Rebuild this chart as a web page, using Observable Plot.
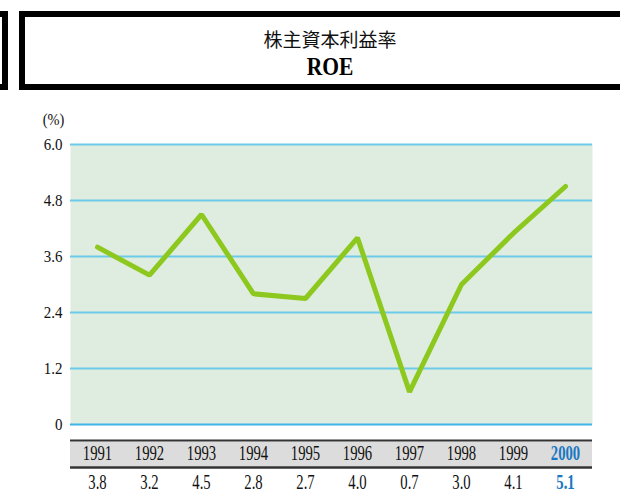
<!DOCTYPE html>
<html>
<head>
<meta charset="utf-8">
<script src="https://cdn.jsdelivr.net/npm/d3@7"></script>
<script src="https://cdn.jsdelivr.net/npm/@observablehq/plot@0.6"></script>
<style>
  html, body { margin: 0; padding: 0; background: white; width: 620px; height: 494px; overflow: hidden; }
  #header { position: relative; width: 620px; height: 100px; overflow: hidden; }
  .box { position: absolute; border: 6px solid #000; box-sizing: border-box; }
  #t1 { position: absolute; left: 330px; top: 38px; transform: translate(-50%, -50%); font-family: "Noto Sans CJK JP", sans-serif; font-size: 19px; white-space: nowrap; color: #111; }
  #t2 { position: absolute; left: 330px; top: 67px; transform: translate(-50%, -50%) scaleX(0.86); font-family: "Liberation Serif", serif; font-weight: bold; font-size: 25px; white-space: nowrap; color: #000; }
</style>
</head>
<body>
<div id="header">
  <div class="box" style="left:-100px; top:11px; width:108px; height:79px;"></div>
  <div class="box" style="left:19px; top:11px; width:620px; height:79px;"></div>
  <div id="t1">株主資本利益率</div>
  <div id="t2">ROE</div>
</div>
<div id="chart"></div>
<script>
const years = ["1991","1992","1993","1994","1995","1996","1997","1998","1999","2000"];
const roe = [3.8, 3.2, 4.5, 2.8, 2.7, 4.0, 0.7, 3.0, 4.1, 5.1];
const valueLabels = ["3.8","3.2","4.5","2.8","2.7","4.0","0.7","3.0","4.1","5.1"];
const yTicks = [0, 1.2, 2.4, 3.6, 4.8, 6.0];
const highlightYear = "2000";
const unitLabel = "(%)";

const data = years.map((y, i) => ({year: y, roe: roe[i], label: valueLabels[i]}));
const normal = data.filter(d => d.year !== highlightYear);
const high = data.filter(d => d.year === highlightYear);

const serif = "Liberation Serif";
const tableFont = 21;
const tickFont = 17;

const chart = Plot.plot({
  width: 620,
  height: 394,
  marginTop: 44,
  marginBottom: 70,
  marginLeft: 70,
  marginRight: 28,
  style: {background: "transparent", fontFamily: serif},
  x: {type: "point", domain: years, padding: 0.5, axis: null},
  y: {domain: [0, 6], axis: null},
  marks: [
    Plot.frame({fill: "#dfece0", stroke: null}),
    Plot.ruleY(yTicks.filter(d => d !== 0), {stroke: "#6ccbe8", strokeWidth: 2}),
    Plot.ruleY([0], {stroke: "#3cb4e6", strokeWidth: 2}),
    Plot.text(yTicks, {y: d => d, text: d => d === 0 ? "0" : d.toFixed(1), frameAnchor: "left", textAnchor: "end", lineAnchor: "middle", dx: -8, fontSize: tickFont, fill: "#111", fontFamily: serif}),
    Plot.text([unitLabel], {frameAnchor: "top-left", textAnchor: "middle", lineAnchor: "middle", dx: -17, dy: -25, text: d => d, fontSize: 16, fill: "#111", fontFamily: serif}),
    Plot.line(data, {x: "year", y: "roe", stroke: "#8dc81e", strokeWidth: 5, strokeLinejoin: "miter", strokeLinecap: "round"}),
    // table
    Plot.ruleY([0], {dy: 29.5, stroke: "#dcdcdc", strokeWidth: 25}),
    Plot.ruleY([0], {dy: 16, stroke: "#333", strokeWidth: 2.2}),
    Plot.ruleY([0], {dy: 43, stroke: "#333", strokeWidth: 2.5}),
    Plot.text(normal, {x: "year", y: 0, dy: 29, text: "year", fontSize: tableFont, fill: "#111", fontFamily: serif}),
    Plot.text(high, {x: "year", y: 0, dy: 29, text: "year", fontSize: tableFont, fill: "#1a78c2", fontWeight: "bold", fontFamily: serif}),
    Plot.text(normal, {x: "year", y: 0, dy: 58, text: "label", fontSize: tableFont, fill: "#111", fontFamily: serif}),
    Plot.text(high, {x: "year", y: 0, dy: 58, text: "label", fontSize: tableFont, fill: "#1a78c2", fontWeight: "bold", fontFamily: serif})
  ]
});

// emulate the condensed serif face of the original by narrowing glyphs horizontally
function condense(size, sx) {
  d3.select(chart).selectAll(`g[font-size="${size}"] text`).each(function() {
    const t = this.getAttribute("transform");
    if (t) this.setAttribute("transform", t + ` scale(${sx},1)`);
  });
}
condense(tableFont, 0.7);
condense(tickFont, 0.88);
condense(16, 0.9);

document.getElementById("chart").appendChild(chart);
</script>
</body>
</html>
